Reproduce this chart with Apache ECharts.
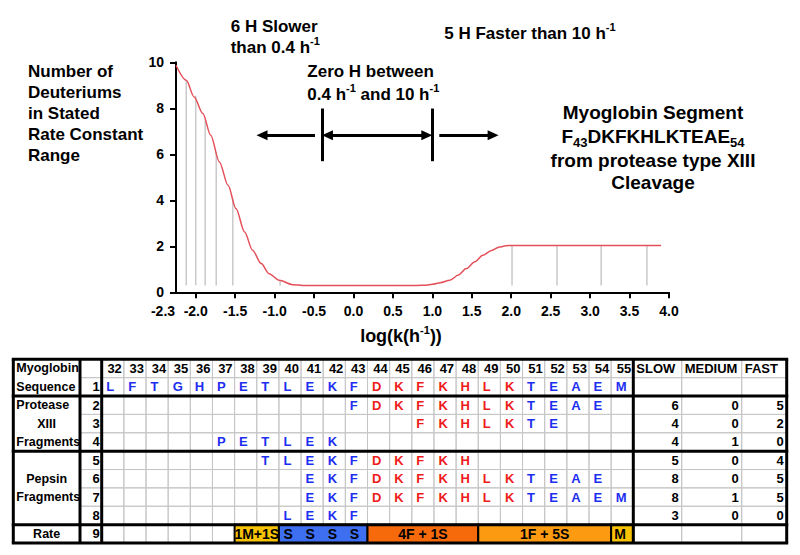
<!DOCTYPE html>
<html>
<head>
<meta charset="utf-8">
<script src="https://cdn.jsdelivr.net/npm/echarts@6.0.0/dist/echarts.min.js"></script>
<style>
html,body{margin:0;padding:0;background:#ffffff;}
#chart{width:800px;height:555px;}
</style>
</head>
<body>
<div id="chart"></div>
<script>
// ================= DATA =================
// Deuterium distribution curve (log k on x, number of D on y)
const curveX = [-2.25, -2.12, -2.02, -1.91, -1.81, -1.70, -1.59, -1.49, -1.38, -1.28, -1.17, -1.07, -0.94, -0.77, -0.64, -0.30, 0.00, 0.40, 0.80, 0.92, 1.00, 1.10, 1.22, 1.33, 1.43, 1.54, 1.64, 1.75, 1.85, 1.93, 2.00, 2.50, 3.00, 3.50, 3.90];
const curveY = [9.87, 9.22, 8.49, 7.77, 6.83, 5.67, 4.65, 3.64, 2.62, 1.83, 1.25, 0.81, 0.52, 0.33, 0.30, 0.30, 0.30, 0.30, 0.30, 0.31, 0.35, 0.42, 0.52, 0.75, 1.03, 1.33, 1.61, 1.82, 1.97, 2.02, 2.04, 2.04, 2.04, 2.04, 2.04];
// individual rate constants (grey drop lines)
const dropX = [-2.12, -2.00, -1.88, -1.74, -1.53, -0.93, 2.01, 2.58, 3.14, 3.72];
const dropTop = [9.22, 8.55, 7.50, 6.10, 4.05, 0.50, 2.04, 2.04, 2.04, 2.04];
const dropBase = 0.3;

const xTickValues = [-2.25, -2.0, -1.5, -1.0, -0.5, 0.0, 0.5, 1.0, 1.5, 2.0, 2.5, 3.0, 3.5, 4.0];
const xTickLabels = ['-2.3', '-2.0', '-1.5', '-1.0', '-0.5', '0.0', '0.5', '1.0', '1.5', '2.0', '2.5', '3.0', '3.5', '4.0'];
const yTickValues = [0, 2, 4, 6, 8, 10];

// rate-window boundaries: log10(0.4) and log10(10)
const boundaryX = [-0.398, 1.0];
const boundaryBarTop = 7.99, boundaryBarBottom = 5.70, arrowLevel = 6.83;
const arrowFrom = [-0.488, -0.330, 1.088];
const arrowTo = [-1.160, 0.930, 1.770];
const arrowBothEnds = [false, true, false];

// Table
const residues = [32, 33, 34, 35, 36, 37, 38, 39, 40, 41, 42, 43, 44, 45, 46, 47, 48, 49, 50, 51, 52, 53, 54, 55];
const sequence = ['L', 'F', 'T', 'G', 'H', 'P', 'E', 'T', 'L', 'E', 'K', 'F', 'D', 'K', 'F', 'K', 'H', 'L', 'K', 'T', 'E', 'A', 'E', 'M'];
const redFrom = 44, redTo = 50;
const fragmentStart = [43, 46, 37, 39, 41, 41, 40];   // table rows 2..8
const fragmentEnd = [54, 52, 42, 48, 54, 55, 43];
const slowCounts = [6, 4, 4, 5, 8, 8, 3];
const mediumCounts = [0, 0, 1, 0, 0, 1, 0];
const fastCounts = [5, 2, 0, 4, 5, 5, 0];
const countHeaders = ['SLOW', 'MEDIUM', 'FAST'];
const rowLabels = ['Myoglobin', 'Sequence', 'Protease', 'XIII', 'Fragments', '', 'Pepsin', 'Fragments', '', 'Rate'];
const rowNumbers = ['', '1', '2', '3', '4', '5', '6', '7', '8', '9'];
const rateFrom = [38, 40, 44, 49, 55];
const rateTo = [39, 43, 48, 54, 55];
const rateText = ['1M+1S', 'S', '4F + 1S', '1F + 5S', 'M'];
const rateEachCell = [false, true, false, false, false];

// Annotation texts
const leftTitleLines = ['Number of', 'Deuteriums', 'in Stated', 'Rate Constant', 'Range'];
const slowNoteLines = ['{m|6 H Slower}', '{m|than 0.4 h}{sup|-1}'];
const zeroNoteLines = ['{m|Zero H between}', '{m|0.4 h}{sup|-1}{m| and 10 h}{sup|-1}'];
const fastNoteLine = '{m|5 H Faster than 10 h}{sup|-1}';
const segmentLines = ['{m|Myoglobin Segment}', '{m|F}{sub|43}{m|DKFKHLKTEAE}{sub|54}', '{m|from protease type XIII}', '{m|Cleavage}'];
const xAxisTitle = '{m|log(k(h}{sup|-1}{m|))}';

// ================= STYLE / LAYOUT =================
const FONT = "'Liberation Sans', Arial, Helvetica, sans-serif";
const BLUE = '#1c2ef0', RED = '#ee1b1b', GRID_GREY = '#c6c6c6', CURVE = '#e4505a';
const rateColor = ['#f7c304', '#3d6ff0', '#f66a0c', '#fc9b12', '#f7c304'];
const rowLabelAlign = ['left', 'left', 'left', 'center', 'left', 'left', 'center', 'left', 'left', 'center'];
const TABLE_TOP = 359.3, ROW_H = 18.37, N_ROWS = 10;
const tableCols = [
  { left: 13.3, right: 80 },     // labels
  { left: 80, right: 101.7 },    // row numbers
  { left: 101.7, right: 633.3 }, // residues
  { left: 633.3, right: 681.7 }, // SLOW
  { left: 681.7, right: 741.7 }, // MEDIUM
  { left: 741.7, right: 786.7 }  // FAST
];
const thickRowBounds = [0, 2, 5, 9, 10];

function makeRich(size) {
  const base = { fontWeight: 'bold', fontFamily: FONT, fill: '#000', color: '#000', verticalAlign: 'middle', lineHeight: Math.round(size * 1.4) };
  return {
    m: Object.assign({}, base, { fontSize: size }),
    sup: Object.assign({}, base, { fontSize: Math.round(size * 0.62), padding: [0, 0, Math.round(size * 0.72), 0] }),
    sub: Object.assign({}, base, { fontSize: Math.round(size * 0.66), padding: [Math.round(size * 0.62), 0, 0, 0] })
  };
}
function richText(x, y, text, size, align) {
  return {
    type: 'text', x: x, y: y, z: 50, silent: true,
    style: { text: text, rich: makeRich(size), fontSize: size, fontWeight: 'bold', fontFamily: FONT, fill: '#000', align: align || 'left', verticalAlign: 'middle' }
  };
}
function plainText(x, y, text, size, align) {
  return {
    type: 'text', x: x, y: y, z: 50, silent: true,
    style: { text: text, fontSize: size, fontWeight: 'bold', fontFamily: FONT, fill: '#000', align: align || 'left', verticalAlign: 'middle' }
  };
}

// ================= TABLE CELLS =================
function cellBox(api, c, r) {
  const p = api.coord([c, r]);
  const s = api.size([1, 1]);
  return { cx: p[0], cy: p[1], x: p[0] - s[0] / 2, y: p[1] - s[1] / 2, w: s[0], h: s[1] };
}
function textEl(x, y, text, color, size, align) {
  return { type: 'text', x: x, y: y, silent: true,
    style: { text: text, fill: color, fontSize: size, fontWeight: 'bold', fontFamily: FONT, align: align, verticalAlign: 'middle' } };
}
function gridRect(b) {
  return { type: 'rect', shape: { x: b.x, y: b.y, width: b.w, height: b.h }, style: { fill: 'none', stroke: GRID_GREY, lineWidth: 1 } };
}

const labelCells = [], numCells = [], resCells = [];
const countCells = [[], [], []];
const countData = [slowCounts, mediumCounts, fastCounts];
for (let r = 0; r < N_ROWS; r++) {
  labelCells.push({ c: 0, r: r, text: rowLabels[r], align: rowLabelAlign[r], pad: 3, color: '#000', size: 12.5 });
  numCells.push({ c: 0, r: r, text: rowNumbers[r], align: 'right', pad: 2, color: '#000', size: 13 });
  for (let c = 0; c < residues.length; c++) {
    const res = residues[c];
    let text = '', align = 'left', pad = 4.5, color = '#000';
    if (r === 0) { text = String(res); align = 'right'; pad = 2; }
    else if (r === 1) { text = sequence[c]; }
    else if (r >= 2 && r <= 8) {
      const f = r - 2;
      if (res >= fragmentStart[f] && res <= fragmentEnd[f]) text = sequence[c];
    }
    if (r >= 1 && text) color = (res >= redFrom && res <= redTo) ? RED : BLUE;
    resCells.push({ c: c, r: r, text: text, align: align, pad: pad, color: color, size: 13 });
  }
  for (let k = 0; k < 3; k++) {
    let text = '', align = 'right', pad = 3;
    if (r === 0) { text = countHeaders[k]; align = 'left'; pad = 3; }
    else if (r >= 2 && r <= 8) text = String(countData[k][r - 2]);
    countCells[k].push({ c: 0, r: r, text: text, align: align, pad: pad, color: '#000', size: 13 });
  }
}

function tableSeries(axisIdx, cells, withGrid) {
  return {
    type: 'custom', xAxisIndex: axisIdx, yAxisIndex: axisIdx, silent: true, z: 2,
    data: cells.map(function (cl) { return [cl.c, cl.r]; }),
    encode: { x: 0, y: 1 },
    renderItem: function (params, api) {
      const cl = cells[params.dataIndex];
      const b = cellBox(api, api.value(0), api.value(1));
      const ch = [];
      if (withGrid) ch.push(gridRect(b));
      if (cl.text) {
        const tx = cl.align === 'right' ? b.x + b.w - cl.pad : (cl.align === 'center' ? b.cx : b.x + cl.pad);
        ch.push(textEl(tx, b.cy, cl.text, cl.color, cl.size, cl.align));
      }
      return { type: 'group', children: ch };
    }
  };
}

const rateSeries = {
  type: 'custom', xAxisIndex: 3, yAxisIndex: 3, silent: true, z: 4,
  data: rateFrom.map(function (f, i) { return [residues.indexOf(f), 9, residues.indexOf(rateTo[i])]; }),
  encode: { x: 0, y: 1 },
  renderItem: function (params, api) {
    const i = params.dataIndex;
    const c0 = api.value(0), c1 = api.value(2);
    const b0 = cellBox(api, c0, 9), b1 = cellBox(api, c1, 9);
    const ch = [{ type: 'rect', shape: { x: b0.x, y: b0.y, width: b1.x + b1.w - b0.x, height: b0.h },
      style: { fill: rateColor[i], stroke: '#000', lineWidth: 2 } }];
    if (rateEachCell[i]) {
      for (let c = c0; c <= c1; c++) {
        const b = cellBox(api, c, 9);
        ch.push(textEl(b.x + 4.5, b.cy, rateText[i], '#000', 14, 'left'));
      }
    } else if (c0 === c1) {
      ch.push(textEl(b0.x + 3, b0.cy, rateText[i], '#000', 14, 'left'));
    } else {
      ch.push(textEl((b0.x + b1.x + b1.w) / 2, b0.cy, rateText[i], '#000', 14, 'center'));
    }
    return { type: 'group', children: ch };
  }
};

// ================= GRIDS / AXES =================
const grids = [{ left: 176, top: 62.3, width: 493, height: 230, outerBoundsMode: 'none' }];
const xAxes = [{
  type: 'value', gridIndex: 0, min: -2.25, max: 4.0,
  axisLine: { show: true, onZero: false, lineStyle: { color: '#000', width: 2 } },
  axisTick: { show: true, customValues: xTickValues.slice(1), length: 6, lineStyle: { color: '#000', width: 2 } },
  axisLabel: {
    show: true, customValues: xTickValues, margin: 12, color: '#000', fontSize: 14, fontWeight: 'bold', fontFamily: FONT,
    formatter: function (v) {
      for (let i = 0; i < xTickValues.length; i++) {
        if (Math.abs(xTickValues[i] - v) < 1e-6) return i === 0 ? '{lead|' + xTickLabels[i] + '}' : xTickLabels[i];
      }
      return '';
    },
    rich: { lead: { fontSize: 14, fontWeight: 'bold', fontFamily: FONT, color: '#000', padding: [0, 26, 0, 0] } }
  },
  splitLine: { show: false }
}];
const yAxes = [{
  type: 'value', gridIndex: 0, min: 0, max: 10, interval: 2,
  axisLine: { show: true, onZero: false, lineStyle: { color: '#000', width: 2 } },
  axisTick: { show: true, length: 6, lineStyle: { color: '#000', width: 2 } },
  axisLabel: { show: true, margin: 12, color: '#000', fontSize: 14, fontWeight: 'bold', fontFamily: FONT },
  splitLine: { show: false }
}];
const catCounts = [1, 1, residues.length, 1, 1, 1];
tableCols.forEach(function (col, i) {
  grids.push({ left: col.left, top: TABLE_TOP, width: col.right - col.left, height: ROW_H * N_ROWS, outerBoundsMode: 'none' });
  const cats = [];
  for (let k = 0; k < catCounts[i]; k++) cats.push(String(k));
  const rows = [];
  for (let r = 0; r < N_ROWS; r++) rows.push(String(r));
  xAxes.push({ type: 'category', gridIndex: i + 1, data: cats, show: false });
  yAxes.push({ type: 'category', gridIndex: i + 1, data: rows, inverse: true, show: false });
});

// ================= ARROWS (markLine) =================
const markData = [];
boundaryX.forEach(function (bx) {
  markData.push([{ coord: [bx, boundaryBarTop], symbol: 'none' }, { coord: [bx, boundaryBarBottom], symbol: 'none' }]);
});
arrowFrom.forEach(function (a, i) {
  markData.push([{ coord: [a, arrowLevel], symbol: arrowBothEnds[i] ? 'triangle' : 'none' }, { coord: [arrowTo[i], arrowLevel], symbol: 'triangle' }]);
});

// ================= GRAPHIC (texts + thick table borders) =================
const gfx = [];
leftTitleLines.forEach(function (t, i) { gfx.push(plainText(28, 71.5 + i * 21, t, 17, 'left')); });
slowNoteLines.forEach(function (t, i) { gfx.push(richText(230.7, [26.5, 47][i], t, 17, 'left')); });
zeroNoteLines.forEach(function (t, i) { gfx.push(richText(307.3, [71.5, 94][i], t, 17, 'left')); });
gfx.push(richText(444.3, 33, fastNoteLine, 17, 'left'));
segmentLines.forEach(function (t, i) { gfx.push(richText(653, [112.5, 136, 160, 182.5][i], t, 19, 'center')); });
gfx.push(richText(401, 336, xAxisTitle, 18, 'center'));

const tblLeft = tableCols[0].left, tblRight = tableCols[tableCols.length - 1].right;
const tblBottom = TABLE_TOP + ROW_H * N_ROWS;
thickRowBounds.forEach(function (rb) {
  const y = TABLE_TOP + rb * ROW_H;
  gfx.push({ type: 'line', z: 60, silent: true, shape: { x1: tblLeft - 1.5, y1: y, x2: tblRight + 1.5, y2: y }, style: { stroke: '#000', lineWidth: 3 } });
});
[tableCols[0].left, tableCols[1].left, tableCols[2].left, tableCols[3].left, tblRight].forEach(function (x) {
  gfx.push({ type: 'line', z: 60, silent: true, shape: { x1: x, y1: TABLE_TOP, x2: x, y2: tblBottom }, style: { stroke: '#000', lineWidth: 3 } });
});

// ================= OPTION =================
const option = {
  animation: false,
  backgroundColor: '#ffffff',
  textStyle: { fontFamily: FONT },
  grid: grids,
  xAxis: xAxes,
  yAxis: yAxes,
  series: [
    {
      type: 'custom', xAxisIndex: 0, yAxisIndex: 0, silent: true, z: 1,
      data: dropX.map(function (x, i) { return [x, dropTop[i]]; }),
      renderItem: function (params, api) {
        const top = api.coord([api.value(0), api.value(1)]);
        const base = api.coord([api.value(0), dropBase]);
        return { type: 'line', shape: { x1: base[0], y1: base[1], x2: top[0], y2: top[1] }, style: { stroke: '#c9c9c9', lineWidth: 1.5 } };
      }
    },
    {
      type: 'line', xAxisIndex: 0, yAxisIndex: 0, z: 3,
      data: curveX.map(function (x, i) { return [x, curveY[i]]; }),
      showSymbol: false, smooth: 0.3, smoothMonotone: 'x', silent: true,
      lineStyle: { color: CURVE, width: 1.5 },
      markLine: {
        silent: true, animation: false,
        label: { show: false },
        emphasis: { disabled: true },
        lineStyle: { color: '#000', width: 3, type: 'solid' },
        symbolSize: [10, 11],
        data: markData
      }
    },
    tableSeries(1, labelCells, false),
    tableSeries(2, numCells, true),
    tableSeries(3, resCells, true),
    rateSeries,
    tableSeries(4, countCells[0], true),
    tableSeries(5, countCells[1], true),
    tableSeries(6, countCells[2], true)
  ],
  graphic: { elements: gfx }
};

const chart = echarts.init(document.getElementById('chart'), null, { renderer: 'svg' });
chart.setOption(option);
</script>
</body>
</html>
